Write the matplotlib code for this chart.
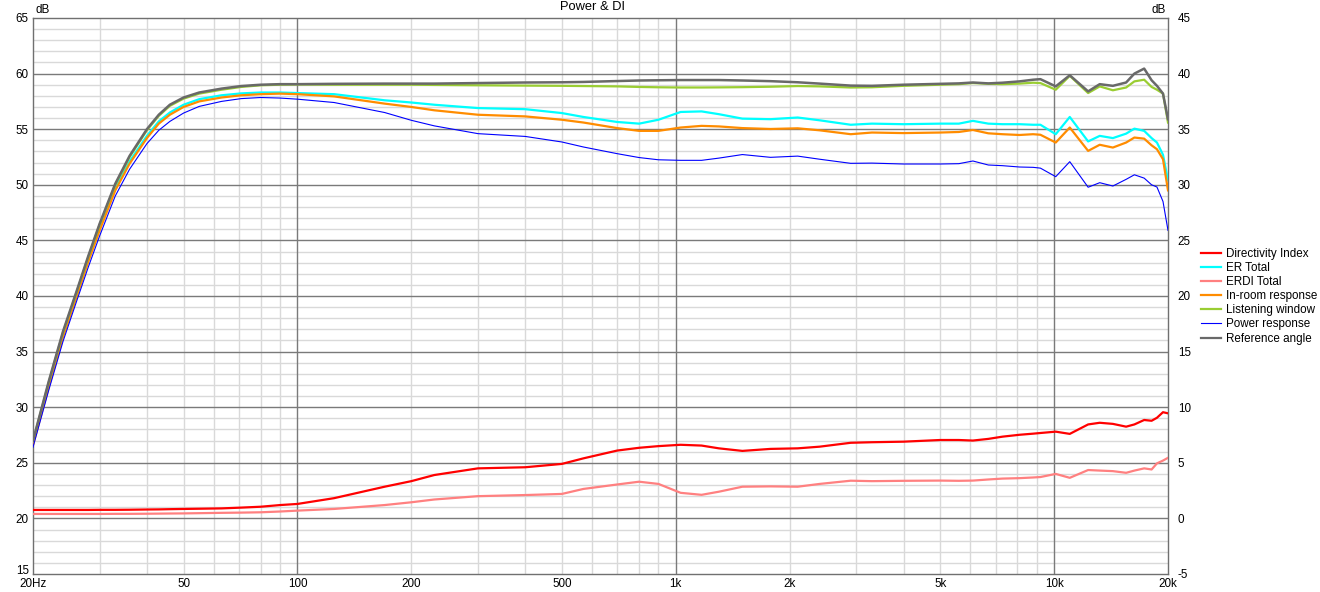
import matplotlib
matplotlib.use("Agg")
import matplotlib.pyplot as plt
from matplotlib.lines import Line2D

plt.rcParams['font.family'] = ['Liberation Sans', 'DejaVu Sans']

# ---------------- data ----------------
freq = [20, 22, 24, 26, 28, 30, 33, 36, 40, 43, 46, 50, 55, 63, 71, 80, 90, 100,
        125, 170, 200, 230, 300, 400, 500, 570, 700, 800, 900, 1030, 1170, 1300,
        1500, 1780, 2100, 2400, 2900, 3300, 4000, 5000, 5600, 6100, 6700, 7300,
        8100, 8800, 9200, 10100, 11000, 12300, 13200, 14300, 15500, 16300, 17300,
        18100, 18700, 19400, 20000]

reference_angle = [27.0, 32.3, 36.8, 40.3, 43.6, 46.5, 50.1, 52.6, 55.0, 56.3, 57.2, 57.85,
                   58.3, 58.65, 58.88, 59.0, 59.05, 59.05,
                   59.08, 59.1, 59.1, 59.1, 59.15, 59.2, 59.22, 59.25, 59.33, 59.38, 59.4,
                   59.42, 59.42, 59.42, 59.38, 59.32, 59.22, 59.1, 58.92, 58.9, 59.0, 59.08,
                   59.12, 59.2, 59.12, 59.18, 59.3, 59.45, 59.5, 58.85, 59.85, 58.4, 59.05,
                   58.9, 59.2, 60.0, 60.45, 59.4, 58.9, 58.2, 55.9]

listening_window = [26.95, 32.2, 36.7, 40.2, 43.5, 46.4, 50.0, 52.5, 54.9, 56.2, 57.1, 57.75,
                    58.2, 58.55, 58.8, 58.95, 59.0, 59.02,
                    59.0, 59.0, 59.0, 58.98, 58.95, 58.92, 58.9, 58.88, 58.85, 58.8, 58.77,
                    58.75, 58.75, 58.76, 58.78, 58.82, 58.88, 58.85, 58.75, 58.77, 58.9, 59.0,
                    59.05, 59.15, 59.08, 59.05, 59.1, 59.18, 59.15, 58.55, 59.8, 58.25, 58.85,
                    58.5, 58.75, 59.3, 59.45, 58.8, 58.55, 58.2, 55.6]

er_total = [26.8, 32.0, 36.5, 40.0, 43.3, 46.1, 49.7, 52.1, 54.4, 55.7, 56.5, 57.2,
            57.7, 58.05, 58.22, 58.3, 58.3, 58.25,
            58.15, 57.6, 57.4, 57.2, 56.9, 56.8, 56.45, 56.1, 55.65, 55.5, 55.85,
            56.55, 56.6, 56.35, 55.95, 55.9, 56.05, 55.8, 55.4, 55.5, 55.45, 55.5,
            55.5, 55.75, 55.5, 55.45, 55.45, 55.4, 55.4, 54.55, 56.1, 53.9, 54.4,
            54.2, 54.6, 55.05, 54.85, 54.2, 53.8, 52.7, 50.4]

in_room = [26.6, 31.8, 36.3, 39.8, 43.1, 45.9, 49.5, 51.9, 54.2, 55.5, 56.3, 57.0,
           57.5, 57.85, 58.05, 58.15, 58.2, 58.15,
           57.95, 57.3, 57.0, 56.7, 56.3, 56.15, 55.85, 55.6, 55.1, 54.85, 54.85,
           55.15, 55.3, 55.25, 55.1, 55.02, 55.08, 54.9, 54.55, 54.7, 54.65, 54.7,
           54.75, 54.93, 54.63, 54.55, 54.48, 54.55, 54.5, 53.8, 55.15, 53.05, 53.6,
           53.35, 53.8, 54.25, 54.15, 53.55, 53.2, 52.3, 49.5]

power_response = [26.4, 31.5, 35.9, 39.4, 42.6, 45.4, 49.0, 51.4, 53.7, 54.9, 55.7, 56.45,
                  57.05, 57.5, 57.75, 57.85, 57.8, 57.7,
                  57.4, 56.5, 55.8, 55.3, 54.6, 54.35, 53.85, 53.4, 52.8, 52.45, 52.25,
                  52.2, 52.2, 52.4, 52.72, 52.47, 52.58, 52.3, 51.93, 51.95, 51.87, 51.87,
                  51.9, 52.14, 51.78, 51.72, 51.6, 51.57, 51.5, 50.73, 52.08, 49.78, 50.19,
                  49.89, 50.49, 50.9, 50.6, 50.0, 49.8, 48.5, 45.9]

directivity_index = [0.76, 0.76, 0.76, 0.76, 0.76, 0.77, 0.77, 0.78, 0.8, 0.81, 0.83, 0.85,
                     0.87, 0.9, 0.97, 1.05, 1.2, 1.3,
                     1.82, 2.85, 3.35, 3.9, 4.5, 4.6, 4.9, 5.4, 6.1, 6.35, 6.5,
                     6.62, 6.55, 6.3, 6.07, 6.25, 6.3, 6.45, 6.8, 6.85, 6.9, 7.05,
                     7.05, 7.0, 7.15, 7.35, 7.52, 7.62, 7.68, 7.8, 7.6, 8.45, 8.6,
                     8.5, 8.25, 8.45, 8.85, 8.78, 9.05, 9.55, 9.45]

erdi_total = [0.4, 0.4, 0.4, 0.4, 0.4, 0.4, 0.41, 0.41, 0.42, 0.43, 0.44, 0.45,
              0.47, 0.5, 0.52, 0.55, 0.62, 0.7,
              0.85, 1.2, 1.45, 1.7, 2.0, 2.1, 2.2, 2.65, 3.05, 3.3, 3.1,
              2.3, 2.12, 2.4, 2.85, 2.88, 2.85, 3.1, 3.39, 3.35, 3.38, 3.4,
              3.38, 3.4, 3.5, 3.58, 3.62, 3.68, 3.72, 4.0, 3.65, 4.35, 4.3,
              4.25, 4.1, 4.3, 4.5, 4.4, 4.95, 5.2, 5.45]

x_tick_vals = [20, 50, 100, 200, 500, 1000, 2000, 5000, 10000, 20000]
x_tick_labels = ['20Hz', '50', '100', '200', '500', '1k', '2k', '5k', '10k', '20k']
left_ticks = [15, 20, 25, 30, 35, 40, 45, 50, 55, 60, 65]
right_ticks = [-5, 0, 5, 10, 15, 20, 25, 30, 35, 40, 45]

# ---------------- figure ----------------
W, H = 1320, 592
fig = plt.figure(figsize=(W / 100, H / 100), dpi=100)
L, R, T, B = 33, 1168, 18, 574
ax = fig.add_axes([L / W, 1 - B / H, (R - L) / W, (B - T) / H])
ax.set_xscale('log')
ax.set_xlim(20, 20000)
ax.set_ylim(15, 65)

# grid
minor_x = [v * m for m in (10, 100, 1000) for v in range(2, 10)]
major_x = [100, 1000, 10000]
for v in minor_x:
    if 20 < v < 20000:
        ax.axvline(v, color='#d9d9d9', lw=1.0, zorder=0)
for v in major_x:
    ax.axvline(v, color='#7a7a7a', lw=1.0, zorder=0.5)
for v in range(16, 65):
    if v % 5:
        ax.axhline(v, color='#d9d9d9', lw=1.0, zorder=0)
for v in range(20, 65, 5):
    ax.axhline(v, color='#7a7a7a', lw=1.0, zorder=0.5)

for s in ax.spines.values():
    s.set_color('#707070')
    s.set_linewidth(1.0)

fs = 8.4
ax.set_xticks(x_tick_vals)
ax.set_xticklabels(x_tick_labels)
ax.minorticks_off()
ax.set_yticks(left_ticks)
ax.set_yticklabels([str(v) for v in left_ticks])
ax.tick_params(axis='both', length=0, labelsize=fs, colors='black')
ax.tick_params(axis='y', pad=3)
ax.tick_params(axis='x', pad=3)
ax.get_yticklabels()[0].set_va('baseline')

ax2 = ax.twinx()
ax2.set_ylim(-5, 45)
ax2.set_yticks(right_ticks)
ax2.set_yticklabels([str(v) for v in right_ticks])
ax2.tick_params(axis='y', length=0, labelsize=fs, pad=7)
ax2.get_yticklabels()[0].set_va('center_baseline')
for s in ax2.spines.values():
    s.set_visible(False)

c_di = '#ff0000'
c_er = '#00ffff'
c_erdi = '#ff8080'
c_inroom = '#ff8c00'
c_lw = '#9acd32'
c_pr = '#0000ff'
c_ref = '#696969'

ax.plot(freq, er_total, color=c_er, lw=1.6, zorder=3)
ax.plot(freq, in_room, color=c_inroom, lw=1.6, zorder=3)
ax.plot(freq, listening_window, color=c_lw, lw=1.6, zorder=3)
ax.plot(freq, power_response, color=c_pr, lw=0.8, zorder=3)
ax.plot(freq, reference_angle, color=c_ref, lw=1.8, zorder=3)
ax2.plot(freq, directivity_index, color=c_di, lw=1.6)
ax2.plot(freq, erdi_total, color=c_erdi, lw=1.6)

handles = [Line2D([], [], color=c_di, lw=1.6),
           Line2D([], [], color=c_er, lw=1.6),
           Line2D([], [], color=c_erdi, lw=1.6),
           Line2D([], [], color=c_inroom, lw=1.6),
           Line2D([], [], color=c_lw, lw=1.6),
           Line2D([], [], color=c_pr, lw=0.8),
           Line2D([], [], color=c_ref, lw=1.6)]
labels = ['Directivity Index', 'ER Total', 'ERDI Total', 'In-room response',
          'Listening window', 'Power response', 'Reference angle']
fig.legend(handles, labels, loc='upper left', bbox_to_anchor=(1201 / W, 1 - 248 / H),
           frameon=False, fontsize=fs, handlelength=1.7, handletextpad=0.4,
           labelspacing=0.18, borderaxespad=0, borderpad=0)

fig.text(593 / W, 1 - 7 / H, 'Power & DI', ha='center', va='center', fontsize=9.3)
fig.text(35 / W, 1 - 10 / H, 'dB', ha='left', va='center', fontsize=fs)
fig.text(1166 / W, 1 - 10 / H, 'dB', ha='right', va='center', fontsize=fs)

fig.savefig('out.png', dpi=100)
